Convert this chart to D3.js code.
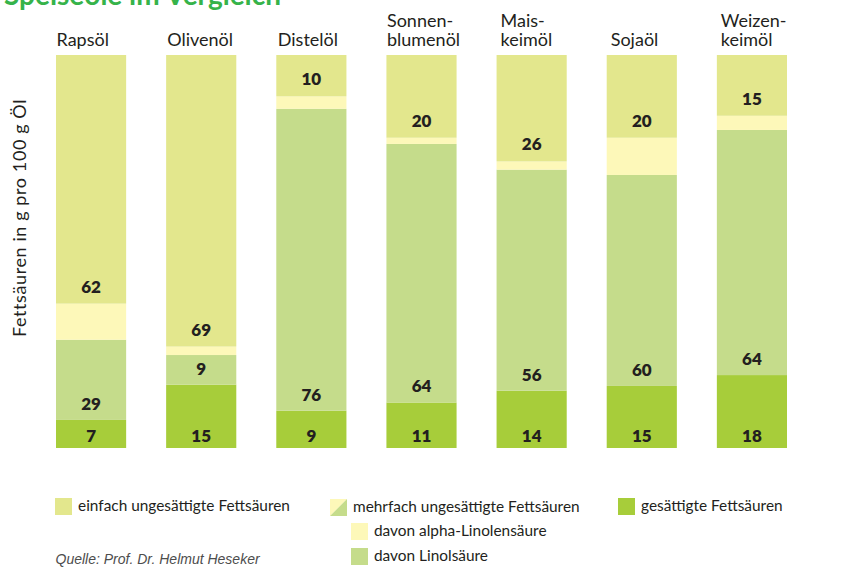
<!DOCTYPE html>
<html>
<head>
<meta charset="utf-8">
<script src="https://cdn.jsdelivr.net/npm/d3@7/dist/d3.min.js"></script>
<style>
  html, body { margin: 0; padding: 0; background: #ffffff; }
  svg { display: block; }
</style>
</head>
<body>
<svg id="chart" width="845" height="577"></svg>
<script>
// ---------------- data ----------------
const title = "Speiseöle im Vergleich";
const categories = ["Rapsöl", "Olivenöl", "Distelöl", "Sonnenblumenöl", "Maiskeimöl", "Sojaöl", "Weizenkeimöl"];
const categoryLines = [["Rapsöl"], ["Olivenöl"], ["Distelöl"], ["Sonnen-", "blumenöl"], ["Mais-", "keimöl"], ["Sojaöl"], ["Weizen-", "keimöl"]];
const saturated       = [7, 15, 9, 11, 14, 15, 18];   // gesättigte Fettsäuren
const polyunsaturated = [29, 9, 76, 64, 56, 60, 64];  // mehrfach ungesättigte Fettsäuren
const linoleic        = [20, 7, 73, 62.5, 54, 51, 60.5]; // davon Linolsäure (estimated)
const alphaLinolenic  = [9, 2, 3, 1.5, 2, 9, 3.5];    // davon alpha-Linolensäure (estimated)
const monounsaturated = [62, 69, 10, 20, 26, 20, 15]; // einfach ungesättigte Fettsäuren
const yAxisTitle = "Fettsäuren in g pro 100 g Öl";
const legendLabels = {
  mono: "einfach ungesättigte Fettsäuren",
  poly: "mehrfach ungesättigte Fettsäuren",
  alpha: "davon alpha-Linolensäure",
  linol: "davon Linolsäure",
  sat: "gesättigte Fettsäuren"
};
const source = "Quelle: Prof. Dr. Helmut Heseker";

// ---------------- styles ----------------
const colors = {
  mono: "#e3e78d",
  alpha: "#fdf8b9",
  linol: "#c5dc8b",
  sat: "#a7cd3a",
  text: "#231f20",
  title: "#36b34a"
};
const FONT = "Lato, 'Open Sans', sans-serif";

const svg = d3.select("#chart");
svg.append("rect").attr("width", 845).attr("height", 577).attr("fill", "#fff");

// title (cut off at the top edge, as in the reference)
svg.append("text")
  .attr("x", 4).attr("y", 5)
  .attr("font-family", FONT).attr("font-weight", 700).attr("font-size", 28)
  .attr("fill", colors.title)
  .text(title);

// scales
const x = d3.scaleBand()
  .domain(categories)
  .range([56, 787])
  .paddingInner(0.3631)
  .paddingOuter(0);

const barTop = 55, barBottom = 448;

const rows = categories.map((c, i) => ({
  cat: c, i,
  sat: saturated[i], linol: linoleic[i], alpha: alphaLinolenic[i], mono: monounsaturated[i],
  poly: polyunsaturated[i]
}));
const keys = ["sat", "linol", "alpha", "mono"];

const g = svg.append("g");
rows.forEach(r => {
  const total = r.sat + r.linol + r.alpha + r.mono;
  const y = d3.scaleLinear().domain([0, total]).range([barBottom, barTop]);
  const stack = d3.stack().keys(keys)([r]);
  const bx = x(r.cat), bw = x.bandwidth();
  const bg = g.append("g");
  stack.forEach(layer => {
    const seg = layer[0];
    bg.append("rect")
      .attr("x", bx).attr("width", bw)
      .attr("y", y(seg[1]))
      .attr("height", y(seg[0]) - y(seg[1]))
      .attr("fill", colors[layer.key]);
  });
  const cx = bx + bw / 2;
  const lbl = (yy, t) => bg.append("text")
    .attr("x", cx).attr("y", yy)
    .attr("text-anchor", "middle")
    .attr("font-family", FONT).attr("font-weight", 800).attr("font-size", 17)
    .attr("fill", colors.text).text(t);
  lbl(barBottom - 6.5, r.sat);
  lbl(y(r.sat) - 10, r.poly);
  lbl(y(r.sat + r.linol + r.alpha) - 11, r.mono);
});

// category labels
const labelShift = [0.5, 1, 1.5, 0.5, 4, 4, 4];
categoryLines.forEach((lines, i) => {
  const n = lines.length;
  lines.forEach((ln, k) => {
    svg.append("text")
      .attr("font-family", FONT).attr("font-size", 18)
      .attr("fill", colors.text)
      .attr("x", x(categories[i]) + labelShift[i])
      .attr("y", 45.7 - (n - 1 - k) * 19)
      .text(ln);
  });
});

// y axis title
svg.append("text")
  .attr("transform", "translate(26,218) rotate(-90)")
  .attr("text-anchor", "middle")
  .attr("font-family", FONT).attr("font-size", 18)
  .attr("letter-spacing", 0.6)
  .attr("fill", colors.text)
  .text(yAxisTitle);

// legend
const legend = svg.append("g").attr("font-family", FONT).attr("font-size", 15.4).attr("fill", colors.text);
const sq = 17;
function legendItem(xx, yy, color, label) {
  legend.append("rect").attr("x", xx).attr("y", yy).attr("width", sq).attr("height", sq).attr("fill", color);
  legend.append("text").attr("x", xx + sq + 6).attr("y", yy + 12.5).text(label);
}
legendItem(55, 498, colors.mono, legendLabels.mono);
legend.append("polygon")
  .attr("points", `330,499 347,499 330,516`).attr("fill", colors.alpha);
legend.append("polygon")
  .attr("points", `347,499 347,516 330,516`).attr("fill", colors.linol);
legend.append("text").attr("x", 353).attr("y", 511.5).text(legendLabels.poly);
legendItem(351, 523, colors.alpha, legendLabels.alpha);
legendItem(351, 548, colors.linol, legendLabels.linol);
legendItem(618, 498, colors.sat, legendLabels.sat);

// source
svg.append("text")
  .attr("x", 55.5).attr("y", 563.5)
  .attr("font-family", "'Liberation Sans', Arial, sans-serif")
  .attr("font-style", "italic").attr("font-size", 14)
  .attr("fill", "#4d4d4d")
  .text(source);
</script>
</body>
</html>
